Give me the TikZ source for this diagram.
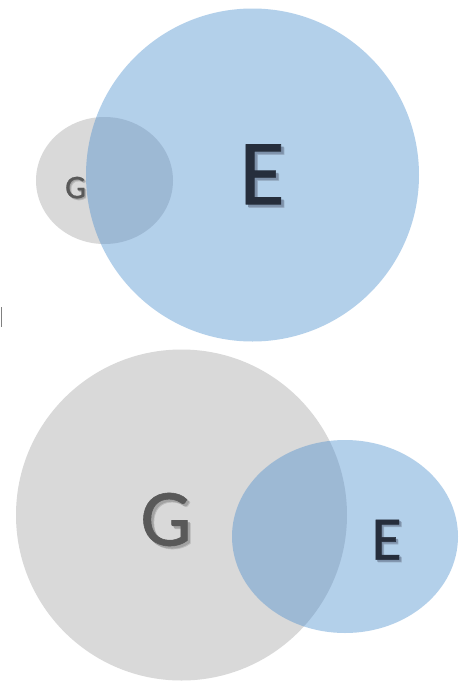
\documentclass[tikz,border=0pt]{standalone}
\usepackage{fontspec}
\setmainfont{Carlito}
\newfontfamily\heavyfont{Carlito}[FakeBold=0.7]
\definecolor{blueA}{RGB}{76,143,207}
\definecolor{grayA}{RGB}{217,217,217}
\definecolor{letterE}{RGB}{38,46,60}
\definecolor{letterG}{RGB}{89,89,89}
\definecolor{shEa}{RGB}{155,177,200}
\definecolor{shEb}{RGB}{125,145,170}
\definecolor{shGa}{RGB}{188,188,188}
\definecolor{shGb}{RGB}{162,162,162}
% letter with a soft drop shadow, all in one text
\newcommand{\shadowletter}[5]{% #1 letter, #2 outer shadow col, #3 inner shadow col, #4 offset, #5 main col
  \makebox[0pt][l]{\hspace{#4}\hspace{0.8pt}\raisebox{-#4}{\raisebox{-0.8pt}{\textcolor{#2}{#1}}}}%
  \makebox[0pt][l]{\hspace{#4}\raisebox{-#4}{\textcolor{#3}{#1}}}%
  \textcolor{#5}{#1}}
\begin{document}
\begin{tikzpicture}[x=1pt,y=-1pt,
  graybox/.style={fill=grayA},
  bluebox/.style={fill=blueA,fill opacity=0.42},
  lettertxt/.style={inner sep=0pt}]
\useasboundingbox (0,0) rectangle (459,681);
\fill[white] (0,0) rectangle (459,681);
% top group
\fill[graybox] (104.5,180.5) ellipse [x radius=68.5, y radius=63.5];
\fill[bluebox] (252.5,175) circle [radius=166.5];
% bottom group
\fill[graybox] (181.5,515) circle [radius=165.5];
\fill[bluebox] (345,536.5) ellipse [x radius=113, y radius=96.5];
% left mark
\coordinate (m1) at (1,307);
\coordinate (m2) at (1,327);
\draw[gray, line width=0.8pt] (m1) -- (m2);
% letters
\node[lettertxt, font=\heavyfont\fontsize{93}{93}\selectfont] (Etop) at (262,176)
  {\shadowletter{E}{shEa}{shEb}{2.5pt}{letterE}};
\node[lettertxt, font=\heavyfont\fontsize{33}{33}\selectfont] (Gsmall) at (75.5,188.5)
  {\shadowletter{G}{shGa}{shGb}{1pt}{letterG}};
\node[lettertxt, font=\heavyfont\fontsize{81}{81}\selectfont] (Gbig) at (166,521)
  {\shadowletter{G}{shGa}{shGb}{2.2pt}{letterG}};
\node[lettertxt, font=\heavyfont\fontsize{62}{62}\selectfont] (Ebot) at (386.5,541)
  {\shadowletter{E}{shEa}{shEb}{1.8pt}{letterE}};
\end{tikzpicture}
\end{document}
